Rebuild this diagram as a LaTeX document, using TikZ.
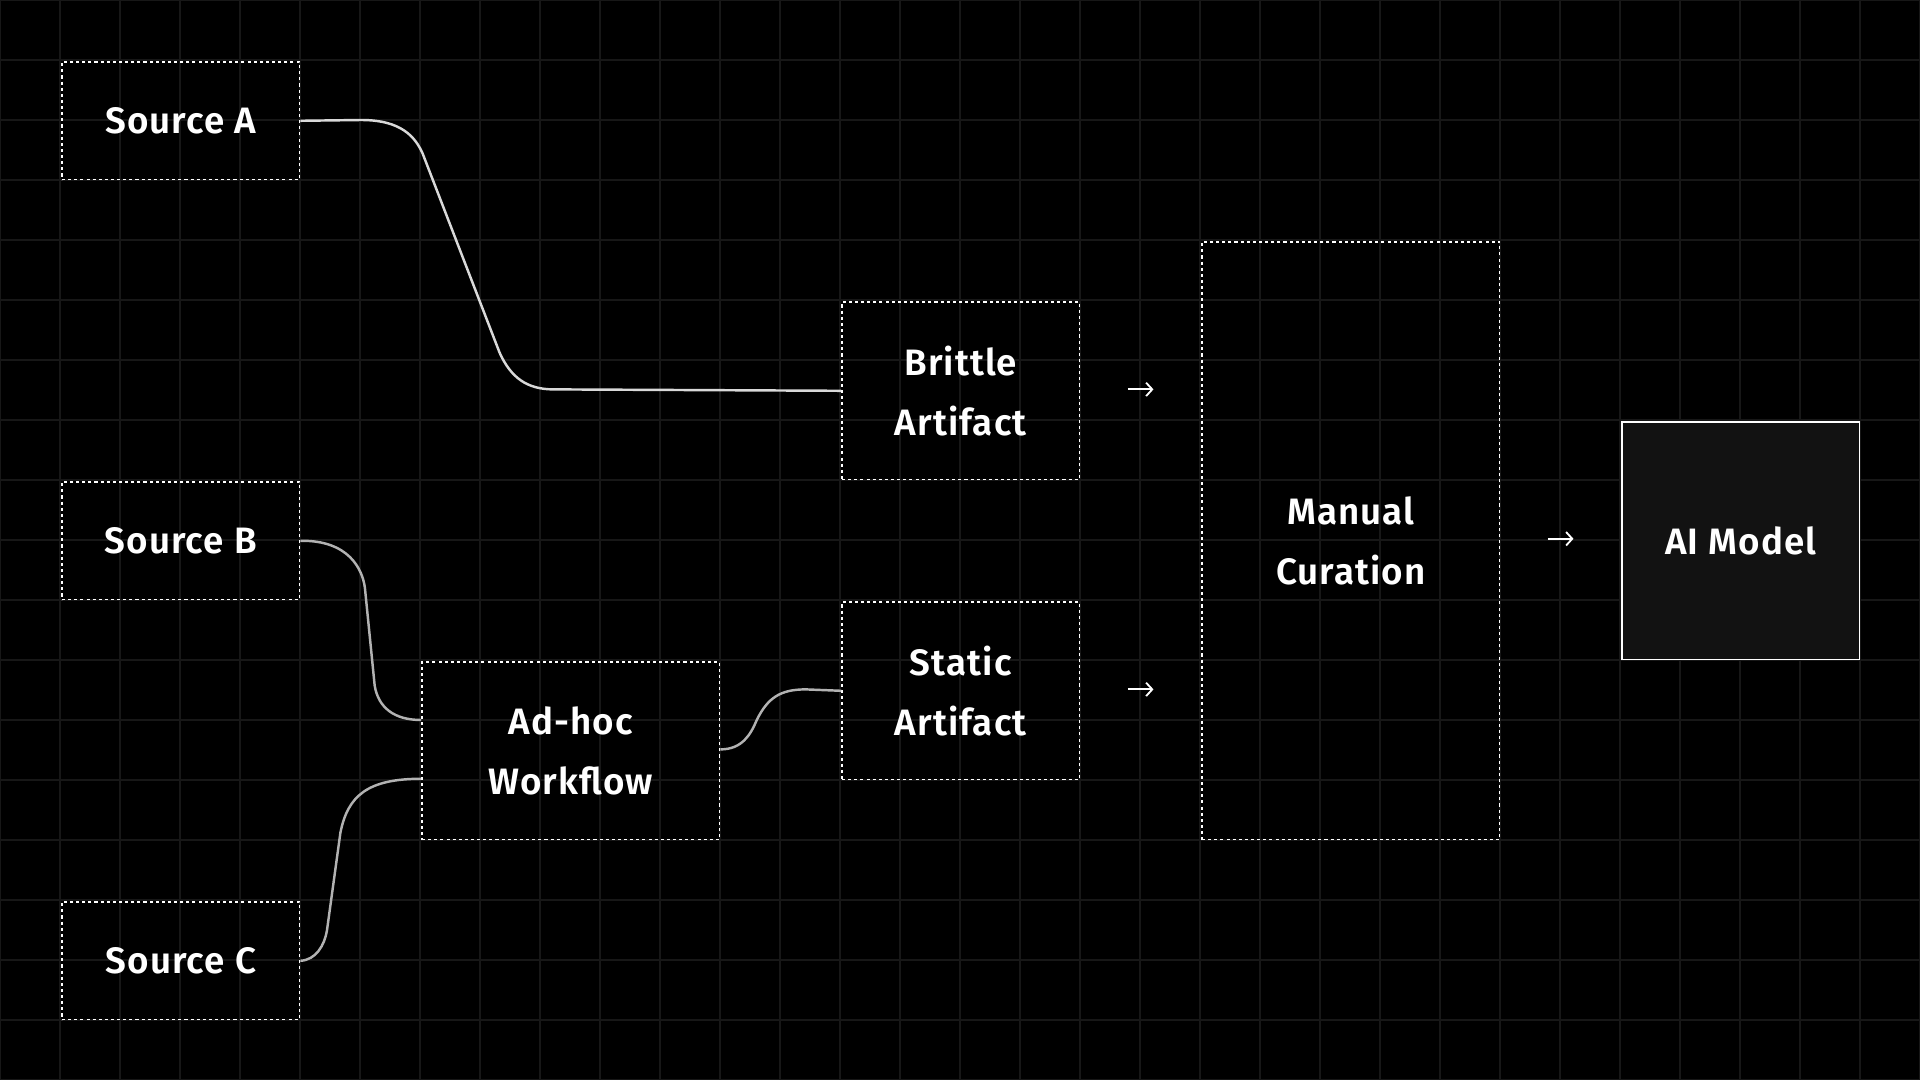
\documentclass[tikz,border=0pt]{standalone}
\usepackage{fontspec}
\setmainfont{Fira Sans}[BoldFont={Fira Sans SemiBold},LetterSpace=3]
\usetikzlibrary{arrows.meta}
\begin{document}
\begin{tikzpicture}[x=1pt,y=-1pt,
  box/.style={draw=white,line width=1.3pt,dash pattern=on 2.5pt off 2.5pt,text=white,font=\bfseries\fontsize{30}{49}\selectfont,align=center,inner sep=0pt,anchor=north west},
  conn/.style={draw=white!70!black,line width=2pt},
  arr/.style={-{Straight Barb[length=5pt,width=11pt]},white,line width=1.5pt}]
\fill[black] (0,0) rectangle (1568,882);
\useasboundingbox (0,0) rectangle (1568,882);
\foreach \i in {0,...,32} \draw[white!9!black,line width=1pt] (\i*49,0) -- (\i*49,882);
\foreach \i in {0,...,18} \draw[white!9!black,line width=1pt] (0,\i*49) -- (1568,\i*49);
\node[box,minimum width=194pt,minimum height=96pt] (a) at (50,50) {Source A};
\node[box,minimum width=194pt,minimum height=96pt] (b) at (50,393) {Source B};
\node[box,minimum width=194pt,minimum height=96pt] (c) at (50,736) {Source C};
\node[box,minimum width=194pt,minimum height=145pt] (br) at (687,246) {Brittle\\Artifact};
\node[box,minimum width=194pt,minimum height=145pt] (st) at (687,491) {Static\\Artifact};
\node[box,minimum width=243pt,minimum height=145pt] (ad) at (344,540) {Ad-hoc\\Workflow};
\node[box,minimum width=243pt,minimum height=488pt] (mc) at (981,197) {Manual\\Curation};
\node[box,solid,fill=white!7!black,minimum width=194pt,minimum height=194pt] (ai) at (1324,344) {AI Model};
\draw[conn,white!85!black] (a.east) -- (295,98) .. controls (328,98) and (339,112) .. (345,125) -- (408,288) .. controls (417,308) and (430,318) .. (452,318) -- (br.west);
\draw[conn] (b.east) .. controls (285,441) and (296,465) .. (298,480) -- (306,560) .. controls (309,578) and (322,588) .. (ad.west|-0,588);
\draw[conn] (c.east) .. controls (258,784) and (265,772) .. (267,760) -- (278,680) .. controls (284,650) and (300,636) .. (ad.west|-0,636);
\draw[conn] (ad.east|-0,612) .. controls (606,612) and (613,600) .. (618,588) .. controls (627,570) and (637,563) .. (658,563) -- (st.west);
\coordinate (p1) at (921,318); \coordinate (q1) at (942,318);
\coordinate (p2) at (921,563); \coordinate (q2) at (942,563);
\coordinate (p3) at (1264,440); \coordinate (q3) at (1285,440);
\draw[arr] (p1) -- (q1); \draw[arr] (p2) -- (q2); \draw[arr] (p3) -- (q3);
\end{tikzpicture}
\end{document}
